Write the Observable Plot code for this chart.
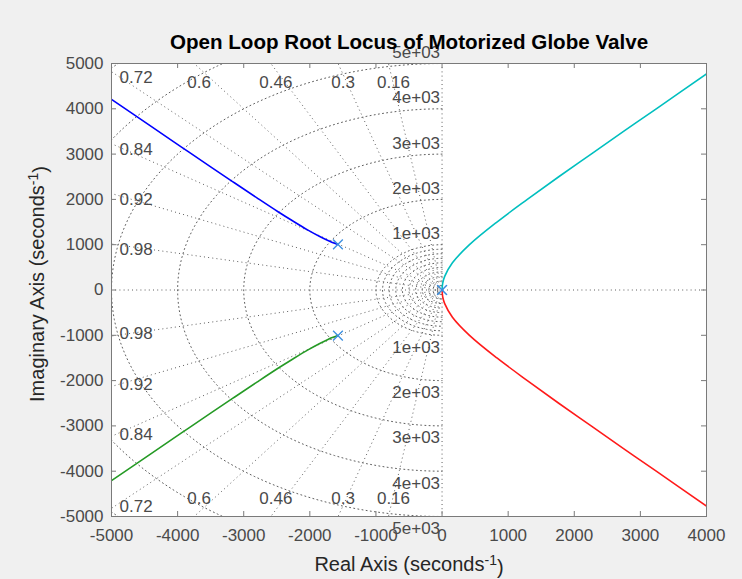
<!DOCTYPE html>
<html>
<head>
<meta charset="utf-8">
<script src="https://cdn.jsdelivr.net/npm/d3@7"></script>
<script src="https://cdn.jsdelivr.net/npm/@observablehq/plot@0.6"></script>
<style>
  html, body { margin: 0; padding: 0; background: #f0f0f0; }
  #chart svg { display: block; }
</style>
</head>
<body>
<div id="chart"></div>
<script>
// ---- text ----
const titleText = "Open Loop Root Locus of Motorized Globe Valve";
const xLabelMain = "Real Axis (seconds";
const yLabelMain = "Imaginary Axis (seconds";
const unitExponent = "-1";

// ---- axes ----
const xDomain = [-5000, 4000];
const yDomain = [-5000, 5000];
const xTicks = [-5000, -4000, -3000, -2000, -1000, 0, 1000, 2000, 3000, 4000];
const yTicks = [-5000, -4000, -3000, -2000, -1000, 0, 1000, 2000, 3000, 4000, 5000];

// ---- s-plane grid (sgrid) ----
const dampingValues = [0.16, 0.3, 0.46, 0.6, 0.72, 0.84, 0.92, 0.98];
const dampingLabels = ["0.16", "0.3", "0.46", "0.6", "0.72", "0.84", "0.92", "0.98"];
const freqRadii = [1000, 2000, 3000, 4000, 5000];
const freqLabels = ["1e+03", "2e+03", "3e+03", "4e+03", "5e+03"];
const extraRadii = [100, 200, 300, 400, 500, 600, 700, 800, 900, 6000, 7000];

// ---- root locus branches ----
const blueRe  = [-1575, -1660, -1726, -1850, -2028, -2250, -2481, -2800, -3136, -3500, -3941, -4400, -5000];
const blueIm  = [1007, 1051, 1092, 1180, 1322, 1517, 1728, 2034, 2362, 2719, 3155, 3612, 4208];
const greenRe = [-1575, -1660, -1726, -1850, -2028, -2250, -2481, -2800, -3136, -3500, -3941, -4400, -5000];
const greenIm = [-1007, -1051, -1092, -1180, -1322, -1517, -1728, -2034, -2362, -2719, -3155, -3612, -4208];
const cyanRe  = [0, 10, 40, 157, 415, 830, 1290, 1765, 2255, 2745, 3240, 4000];
const cyanIm  = [0, 150, 300, 600, 1000, 1500, 2000, 2500, 3000, 3500, 4000, 4770];
const redRe   = [0, 10, 40, 157, 415, 830, 1290, 1765, 2255, 2745, 3240, 4000];
const redIm   = [0, -150, -300, -600, -1000, -1500, -2000, -2500, -3000, -3500, -4000, -4770];

// ---- open-loop poles ----
const poleRe = [-1575, -1575, 0, 0];
const poleIm = [1007, -1007, 0, 0];

// ---- colours ----
const branchColors = {blue: "#0000ff", green: "#259a25", cyan: "#00bfbf", red: "#ff1a1a"};
const poleColor = "#3a8ee0";
const gridColor = "#5e5e5e";
const textColor = "#4a4a4a";
const boxColor = "#7a7a7a";

// ---- build tables ----
const zip = (re, im) => re.map((r, i) => ({re: r, im: im[i]}));
const branches = [
  {key: "blue", pts: zip(blueRe, blueIm)},
  {key: "green", pts: zip(greenRe, greenIm)},
  {key: "cyan", pts: zip(cyanRe, cyanIm)},
  {key: "red", pts: zip(redRe, redIm)}
];
const poles = zip(poleRe, poleIm);

const arcs = [];
for (const r of [...extraRadii, ...freqRadii]) {
  for (let a = 90; a <= 270; a += 1.5) {
    const t = a * Math.PI / 180;
    arcs.push({r, re: r * Math.cos(t), im: r * Math.sin(t)});
  }
}

const L = 20000;
const rays = [];
dampingValues.forEach(z => {
  const s = Math.sqrt(1 - z * z);
  rays.push({x2: -L * z, y2: L * s});
  rays.push({x2: -L * z, y2: -L * s});
});

// damping labels at the frame edge
const leftLabels = [], topLabels = [];
dampingValues.forEach((z, i) => {
  const tan = Math.sqrt(1 - z * z) / z;
  const yAtLeft = -xDomain[0] * tan;
  if (yAtLeft <= yDomain[1]) {
    leftLabels.push({re: xDomain[0], im: yAtLeft, label: dampingLabels[i], up: true});
    leftLabels.push({re: xDomain[0], im: -yAtLeft, label: dampingLabels[i], up: false});
  } else {
    const xAtTop = -yDomain[1] / tan;
    topLabels.push({re: xAtTop, im: yDomain[1], label: dampingLabels[i], up: true});
    topLabels.push({re: xAtTop, im: yDomain[0], label: dampingLabels[i], up: false});
  }
});
const freqText = [];
freqRadii.forEach((r, i) => {
  freqText.push({re: 0, im: r, label: freqLabels[i], up: true});
  freqText.push({re: 0, im: -r, label: freqLabels[i], up: false});
});

const W = 742, H = 579;
const mL = 111, mR = 36, mT = 63, mB = 63;
const frameW = W - mL - mR, frameH = H - mT - mB;
const dotted = {stroke: gridColor, strokeWidth: 1, strokeDasharray: "1,3.2"};
const fs = 17;

const chart = Plot.plot({
  width: W,
  height: H,
  marginLeft: mL,
  marginRight: mR,
  marginTop: mT,
  marginBottom: mB,
  style: {background: "#f0f0f0", fontFamily: "'Liberation Sans', Arial, Helvetica, sans-serif", color: "#262626"},
  x: {domain: xDomain},
  y: {domain: yDomain},
  marks: [
    Plot.frame({fill: "white", stroke: "none"}),
    // grid
    Plot.line(arcs, {x: "re", y: "im", z: "r", ...dotted, clip: true}),
    Plot.link(rays, {x1: 0, y1: 0, x2: "x2", y2: "y2", ...dotted, clip: true}),
    Plot.ruleX([0], {...dotted}),
    Plot.ruleY([0], {...dotted}),
    // labels of the grid
    Plot.text(leftLabels.filter(d => d.up), {x: "re", y: "im", text: "label", textAnchor: "start", dx: 8, dy: 6, fontSize: fs, fill: textColor}),
    Plot.text(leftLabels.filter(d => !d.up), {x: "re", y: "im", text: "label", textAnchor: "start", dx: 8, dy: -2, fontSize: fs, fill: textColor}),
    Plot.text(topLabels.filter(d => d.up), {x: "re", y: "im", text: "label", textAnchor: "middle", dx: 5, dy: 19, fontSize: fs, fill: textColor}),
    Plot.text(topLabels.filter(d => !d.up), {x: "re", y: "im", text: "label", textAnchor: "middle", dx: 5, dy: -18, fontSize: fs, fill: textColor}),
    Plot.text(freqText.filter(d => d.up), {x: "re", y: "im", text: "label", textAnchor: "end", dx: -2, dy: -11, fontSize: fs, fill: textColor}),
    Plot.text(freqText.filter(d => !d.up), {x: "re", y: "im", text: "label", textAnchor: "end", dx: -2, dy: 12, fontSize: fs, fill: textColor}),
    // loci
    ...branches.map(b => Plot.line(b.pts, {x: "re", y: "im", stroke: branchColors[b.key], strokeWidth: 1.6, curve: "catmull-rom", clip: true})),
    Plot.dot(poles, {x: "re", y: "im", symbol: "times", r: 4.5, stroke: poleColor, strokeWidth: 1.3}),
    // frame + ticks
    Plot.ruleX(xTicks, {insetTop: frameH - 5, stroke: boxColor}),
    Plot.ruleX(xTicks, {insetBottom: frameH - 5, stroke: boxColor}),
    Plot.ruleY(yTicks, {insetRight: frameW - 5, stroke: boxColor}),
    Plot.ruleY(yTicks, {insetLeft: frameW - 5, stroke: boxColor}),
    Plot.frame({stroke: boxColor, strokeWidth: 1}),
    Plot.axisX(xTicks, {tickSize: 0, tickPadding: 12, fontSize: fs, fill: textColor, label: null, tickFormat: d => String(d)}),
    Plot.axisY(yTicks, {tickSize: 0, tickPadding: 8, fontSize: fs, fill: textColor, label: null, tickFormat: d => String(d)}),
    // titles
    Plot.text([titleText], {frameAnchor: "top", lineAnchor: "middle", textAnchor: "middle", dy: -21, fontSize: 20.6, fontWeight: "bold", fill: "#000", className: "ttl"}),
    Plot.text([xLabelMain], {frameAnchor: "bottom", lineAnchor: "middle", textAnchor: "middle", dy: 48, fontSize: 20, fill: "#262626", className: "xlab"}),
    Plot.text([yLabelMain], {frameAnchor: "left", lineAnchor: "middle", textAnchor: "middle", dx: -74, dy: -6, rotate: -90, fontSize: 20, fill: "#262626", className: "ylab"})
  ]
});

// add the superscript unit exponent as real text (tspans)
for (const cls of ["xlab", "ylab"]) {
  d3.select(chart).selectAll(`g.${cls} text`).each(function() {
    const t = d3.select(this);
    const main = t.text();
    t.text(null);
    t.append("tspan").text(main);
    t.append("tspan").attr("dy", "-0.45em").attr("font-size", "14px").text(unitExponent);
    t.append("tspan").attr("dy", "0.45em").text(")");
  });
}

document.getElementById("chart").appendChild(chart);
</script>
</body>
</html>
